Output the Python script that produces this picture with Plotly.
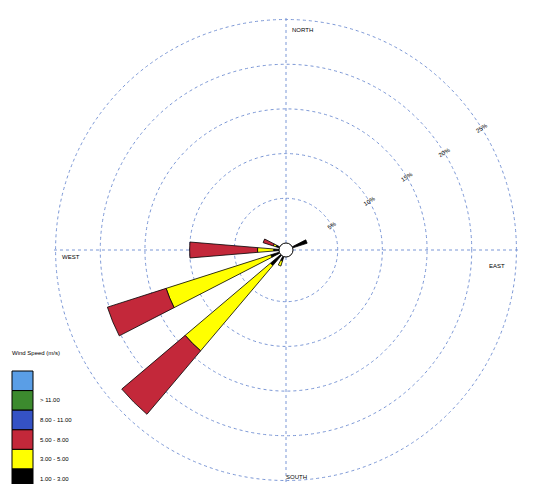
import plotly.graph_objects as go

# ---- data ----
directions = ["N", "NNE", "NE", "ENE", "E", "ESE", "SE", "SSE",
              "S", "SSW", "SW", "WSW", "W", "WNW", "NW", "NNW"]
dir_angles = [0, 22.5, 45, 67.5, 90, 112.5, 135, 157.5,
              180, 202.5, 225, 247.5, 270, 292.5, 315, 337.5]
# percent frequency per speed class
spd_1_3 = [0, 0, 0, 1.7, 0, 0, 0, 0, 0, 0.5, 1.5, 1.0, 0.6, 0.4, 0, 0]
spd_3_5 = [0, 0, 0, 0, 0, 0, 0, 0, 0, 0.6, 12.5, 12.3, 1.8, 0.3, 0, 0]
spd_5_8 = [0, 0, 0, 0, 0, 0, 0, 0, 0, 0, 9.3, 6.9, 7.6, 1.2, 0, 0]
spd_8_11 = [0] * 16
spd_11p = [0] * 16

class_labels = ["", "> 11.00", "8.00 - 11.00", "5.00 - 8.00", "3.00 - 5.00", "1.00 - 3.00"]
class_colors = ["#5a9ee6", "#3c8a2e", "#3552c4", "#c3283a", "#ffff00", "#000000"]

ring_vals = [5, 10, 15, 20, 25]
ring_text = ["5%", "10%", "15%", "20%", "25%"]
compass_labels = ["NORTH", "EAST", "SOUTH", "WEST"]

grid_col = "#7b97d6"
W, H = 560, 484
OFF = 8  # page offset of the figure in the browser


def px(x):
    return (x - OFF) / W


def py(y):
    return 1 - (y - OFF) / H


fig = go.Figure()
series = [spd_1_3, spd_3_5, spd_5_8, spd_8_11, spd_11p]
colors = ["#000000", "#ffff00", "#c3283a", "#3552c4", "#3c8a2e"]
for vals, col in zip(series, colors):
    fig.add_trace(go.Barpolar(
        r=vals, theta=dir_angles, width=[9.5] * 16,
        marker=dict(color=col, line=dict(color="black", width=0.8)),
        showlegend=False, hoverinfo="skip"))

# polar circle: centre (286, 250) on screen, radius 234 px
cxs, cys, R = 286, 250, 234
dom_x = [px(cxs - R), px(cxs + R)]
dom_y = [py(cys + R), py(cys - R)]
fig.update_layout(
    width=W, height=H, margin=dict(l=0, r=0, t=0, b=0),
    paper_bgcolor="white", showlegend=False,
    polar=dict(
        domain=dict(x=dom_x, y=dom_y),
        bgcolor="white", hole=0.03, barmode="stack",
        radialaxis=dict(range=[0, 25.4], tickvals=ring_vals, ticktext=ring_text,
                        angle=33, tickangle=0, showline=False, ticks="",
                        gridcolor=grid_col, griddash="dot", gridwidth=1,
                        tickfont=dict(size=6, color="black", family="Liberation Sans")),
        angularaxis=dict(rotation=90, direction="clockwise",
                         tickvals=[0, 90, 180, 270], showticklabels=False, ticks="",
                         gridcolor=grid_col, griddash="dot", gridwidth=1,
                         showline=False),
    ),
)

# compass labels (inside the outer ring)
compass_pos = [(302, 30), (497, 266), (296, 477), (71, 257)]
for lab, (x, y) in zip(compass_labels, compass_pos):
    fig.add_annotation(xref="paper", yref="paper", x=px(x), y=py(y), text=lab,
                       showarrow=False, xanchor="center", yanchor="middle",
                       font=dict(size=6, color="black", family="Liberation Sans"))

# center circle outline
rc = 7
fig.add_shape(type="circle", xref="paper", yref="paper",
              x0=px(cxs - rc), x1=px(cxs + rc), y0=py(cys + rc), y1=py(cys - rc),
              line=dict(color="black", width=1), fillcolor="white")

# legend (custom, stacked colour boxes)
fig.add_annotation(xref="paper", yref="paper", x=px(10), y=py(353),
                   text="Wind Speed (m/s)", showarrow=False, xanchor="left",
                   yanchor="middle", font=dict(size=6, color="black", family="Liberation Sans"))
box_top = 371
box_h = 19.6
for i, (lab, col) in enumerate(zip(class_labels, class_colors)):
    t = box_top + i * box_h
    b = t + box_h
    fig.add_shape(type="rect", xref="paper", yref="paper",
                  x0=px(12), x1=px(33), y0=py(b), y1=py(t),
                  line=dict(color="black", width=1), fillcolor=col)
    if lab:
        fig.add_annotation(xref="paper", yref="paper", x=px(38),
                           y=py(t + box_h / 2), text=lab, showarrow=False,
                           xanchor="left", yanchor="middle",
                           font=dict(size=6, color="black", family="Liberation Sans"))

fig.write_html("out.html")
